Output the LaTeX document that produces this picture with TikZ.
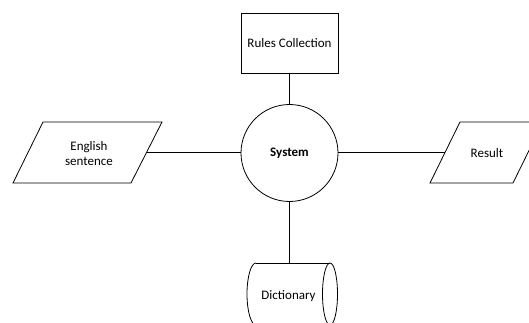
\documentclass[tikz,border=0pt]{standalone}
\usepackage{fontspec}
\setmainfont{Carlito}
\begin{document}
\begin{tikzpicture}[x=1pt,y=-1pt,line width=0.8pt,
  txt/.style={font=\fontsize{13}{15}\selectfont,align=center,inner sep=0pt},
  conn/.style={line width=0.8pt}]
\useasboundingbox (0,0) rectangle (529,323);
\clip (0,0) rectangle (529,323);
% Rules Collection
\node[draw,txt,minimum width=97pt,minimum height=60pt,outer sep=0pt] (rules) at (289.5,43) {Rules Collection};
% System
\node[draw,circle,txt,minimum size=97pt,outer sep=0pt,font=\fontsize{13}{15}\selectfont\bfseries] (sys) at (289.5,153) {System};
% English sentence parallelogram
\draw (43,122) -- (162,122) -- (131,183) -- (13,183) -- cycle;
\node[txt] (eng) at (89,154) {English\\sentence};
\coordinate (engR) at (147.2,152);
% Result parallelogram
\draw (460,122) -- (543,122) -- (513,183) -- (430,183) -- cycle;
\node[txt] (res) at (487,153.5) {Result};
\coordinate (resL) at (445,152);
% Dictionary (direct access storage)
\draw (256,263) -- (330,263);
\draw (256,325) -- (330,325);
\draw (256,263) arc[start angle=-90,end angle=-270,x radius=9,y radius=31];
\draw (330,294) ellipse [x radius=7.5,y radius=31];
\node[txt] (dic) at (288.5,296) {Dictionary};
\coordinate (dicT) at (289.5,263);
% connectors
\draw[conn] (rules.south) -- (sys.north);
\draw[conn] (engR) -- (engR -| sys.west);
\draw[conn] (resL) -- (resL -| sys.east);
\draw[conn] (sys.south) -- (dicT);
\end{tikzpicture}
\end{document}
